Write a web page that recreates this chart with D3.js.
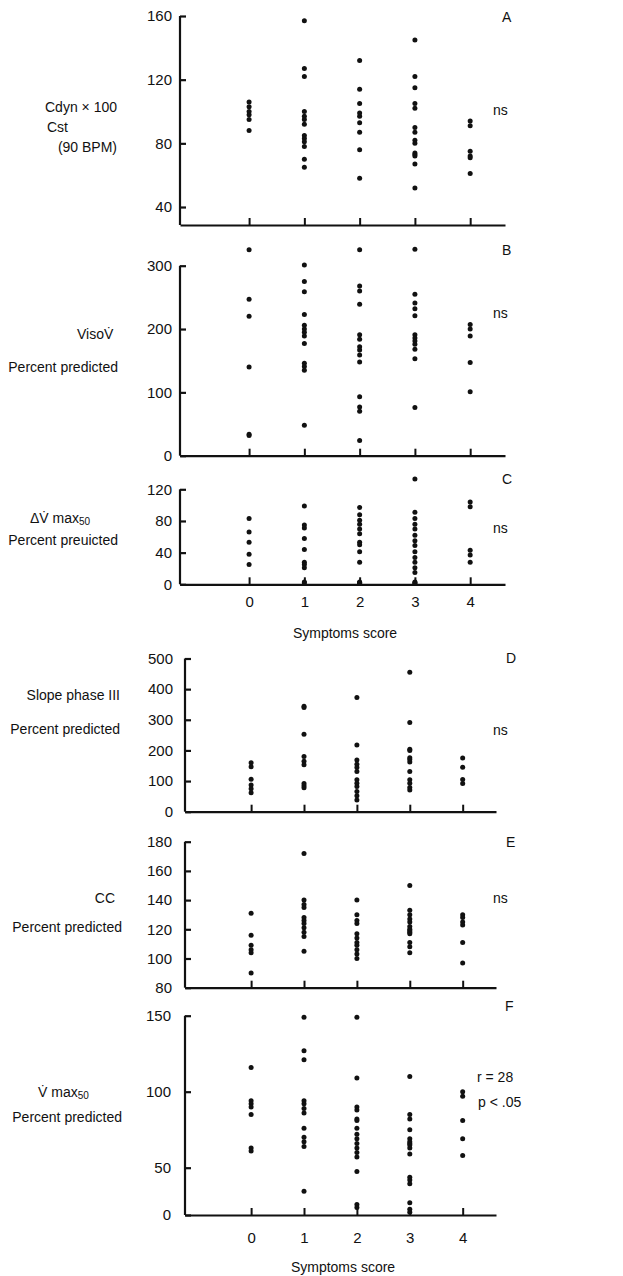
<!DOCTYPE html>
<html><head><meta charset="utf-8">
<script src="https://cdn.jsdelivr.net/npm/d3@7"></script>
<style>
body{margin:0;background:#fff}
text{font-family:"Liberation Sans",Arial,Helvetica,sans-serif;fill:#111}
</style>
</head><body>
<svg id="c" width="623" height="1276"></svg>
<script>
// ---------- data ----------
const categories = [0, 1, 2, 3, 4];
const xTickLabels = ["0", "1", "2", "3", "4"];
const xLabel = "Symptoms score";

const ticksA = [40, 80, 120, 160];
const cdynA = [
  [106, 103, 100, 98, 95, 88],
  [157, 127, 122, 100, 97, 95, 92, 85, 83, 81, 78, 70, 65],
  [132, 114, 105, 99, 97, 93, 87, 76, 58],
  [145, 122, 115, 105, 102, 90, 87, 82, 80, 74, 73, 72, 67, 52],
  [94, 91, 75, 72, 71, 61]
];

const ticksB = [0, 100, 200, 300];
const visoB = [
  [325, 247, 220, 140, 34, 32],
  [301, 275, 259, 223, 206, 200, 195, 189, 177, 146, 141, 135, 48],
  [325, 268, 260, 239, 191, 184, 172, 167, 159, 148, 93, 77, 70, 24],
  [326, 255, 241, 232, 221, 191, 186, 181, 176, 168, 153, 76],
  [207, 200, 189, 147, 101]
];

const ticksC = [0, 40, 80, 120];
const dVmaxC = [
  [83, 66, 53, 38, 25],
  [99, 75, 71, 58, 44, 28, 25, 21, 3, 2],
  [97, 88, 81, 76, 70, 64, 53, 50, 41, 28, 3, 2, 1, 2],
  [133, 91, 83, 76, 70, 62, 55, 49, 41, 34, 28, 21, 15, 3, 2, 1],
  [104, 98, 43, 37, 28]
];

const ticksD = [0, 100, 200, 300, 400, 500];
const slopeD = [
  [160, 147, 106, 87, 75, 62],
  [344, 340, 253, 180, 165, 153, 92, 85, 78],
  [373, 218, 169, 155, 144, 131, 104, 93, 82, 66, 52, 38],
  [455, 291, 204, 200, 176, 170, 162, 131, 104, 93, 79, 71],
  [175, 145, 105, 92]
];

const ticksE = [80, 100, 120, 140, 160, 180];
const ccE = [
  [131, 116, 109, 106, 104, 90],
  [172, 140, 137, 135, 128, 126, 124, 121, 118, 115, 105],
  [140, 130, 126, 124, 117, 114, 111, 109, 106, 103, 100],
  [150, 133, 130, 127, 125, 122, 120, 119, 118, 117, 111, 108, 104],
  [130, 128, 125, 123, 111, 97]
];

const ticksF = [0, 50, 100, 150];
const vmaxF = [
  [116, 94, 92, 90, 85, 63, 61],
  [149, 127, 121, 94, 92, 89, 86, 76, 70, 67, 64, 25],
  [149, 109, 90, 88, 82, 81, 76, 72, 69, 66, 63, 60, 57, 46, 11, 8],
  [110, 85, 82, 75, 69, 67, 66, 65, 63, 59, 40, 37, 33, 13, 6, 3],
  [100, 97, 81, 69, 58]
];

// ---------- layout ----------
const svg = d3.select("#c");
const xDomain = [-1.25, 4.63];
const xUpper = d3.scaleLinear().domain(xDomain).range([180, 505]);
const xLower = d3.scaleLinear().domain(xDomain).range([185, 496]);

const panels = [
  {x: xUpper, data: cdynA, ticks: ticksA, dom: [28.7, 160], rng: [225, 16], pad: 8, xlab: false},
  {x: xUpper, data: visoB, ticks: ticksB, dom: [0, 300], rng: [455.7, 265.7], pad: 8, xlab: false},
  {x: xUpper, data: dVmaxC, ticks: ticksC, dom: [0, 120], rng: [584.3, 489.3], pad: 8, xlab: true, xpad: 12},
  {x: xLower, data: slopeD, ticks: ticksD, dom: [0, 500], rng: [811.7, 658.5], pad: 12, xlab: false},
  {x: xLower, data: ccE, ticks: ticksE, dom: [80, 180], rng: [987.7, 841.7], pad: 13, xlab: false},
  {x: xLower, data: vmaxF, ticks: ticksF, dom: [0, 50, 150], rng: [1215, 1167.7, 1015.7], pad: 14, xlab: true, xpad: 17}
];

panels.forEach(p => {
  const y = d3.scaleLinear().domain(p.dom).range(p.rng);
  const x = p.x;
  const x0 = x(xDomain[0]);
  const base = p.rng[0];

  // y axis
  const ya = svg.append("g").attr("transform", `translate(${x0},0)`)
    .call(d3.axisLeft(y).tickValues(p.ticks).tickSizeInner(-6).tickSizeOuter(0).tickPadding(p.pad).tickFormat(d3.format("d")));
  ya.select(".domain").attr("stroke", "#111").attr("stroke-width", 2.2)
    .attr("d", `M0,${base}V${y(p.ticks[p.ticks.length - 1])}`);
  ya.selectAll(".tick line").attr("stroke", "#111").attr("stroke-width", 2.2);
  ya.selectAll(".tick text").attr("font-size", 15).attr("fill", "#111")
    .style("font-family", '"Liberation Sans",Arial,sans-serif');

  // x axis
  const xa = svg.append("g").attr("transform", `translate(0,${base})`)
    .call(d3.axisBottom(x).tickValues(categories).tickSizeInner(-7).tickSizeOuter(0)
      .tickPadding(p.xlab ? p.xpad : 0).tickFormat((d, i) => p.xlab ? xTickLabels[i] : ""));
  xa.select(".domain").attr("stroke", "#111").attr("stroke-width", 2.2);
  xa.selectAll(".tick line").attr("stroke", "#111").attr("stroke-width", 2);
  xa.selectAll(".tick text").attr("font-size", 15).attr("fill", "#111")
    .style("font-family", '"Liberation Sans",Arial,sans-serif');

  // dots
  const pts = [];
  p.data.forEach((vals, ci) => vals.forEach(v => pts.push({c: categories[ci], v})));
  svg.append("g").selectAll("circle").data(pts).join("circle")
    .attr("cx", d => x(d.c)).attr("cy", d => y(d.v)).attr("r", 2.5).attr("fill", "#111");
});

// ---------- texts ----------
function txt(s, x, y, anchor, size) {
  return svg.append("text").attr("x", x).attr("y", y)
    .attr("text-anchor", anchor || "start").attr("font-size", size || 14).text(s);
}
function sub(t, main, subTxt) {
  t.text(main);
  t.append("tspan").attr("font-size", 10).attr("dy", 2).text(subTxt);
}

// A
txt("Cdyn \u00d7 100", 117, 112, "end");
txt("Cst", 47, 132);
txt("(90 BPM)", 117, 152, "end");
txt("A", 502, 22);
txt("ns", 493, 115);
// B
txt("VisoV\u0307", 77, 339);
txt("Percent predicted", 118, 372, "end");
txt("B", 502, 255);
txt("ns", 493, 318);
// C
sub(txt("", 30, 523), "\u0394V\u0307 max", "50");
txt("Percent preuicted", 118, 545, "end");
txt("C", 502, 484);
txt("ns", 493, 533);
txt(xLabel, 345, 638, "middle");
// D
txt("Slope phase III", 120, 700, "end");
txt("Percent predicted", 120, 734, "end");
txt("D", 506, 663);
txt("ns", 493, 735);
// E
txt("CC", 115, 903, "end");
txt("Percent predicted", 122, 932, "end");
txt("E", 506, 847);
txt("ns", 493, 903);
// F
sub(txt("", 38, 1097), "V\u0307 max", "50");
txt("Percent predicted", 122, 1122, "end");
txt("F", 505, 1011);
txt("r = 28", 477, 1082);
txt("p < .05", 478, 1107);
txt(xLabel, 343, 1272, "middle");
</script>
</body></html>
